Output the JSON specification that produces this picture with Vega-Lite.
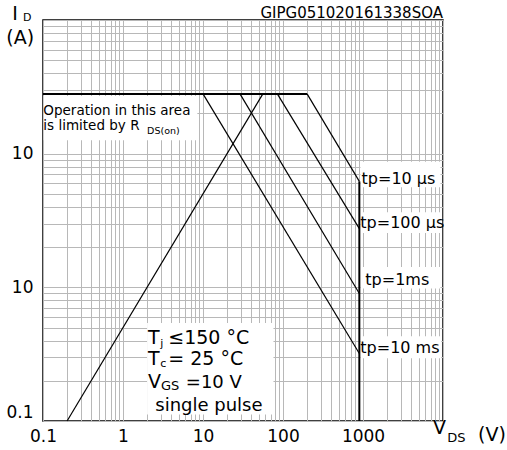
{
  "$schema": "https://vega.github.io/schema/vega-lite/v6.json",
  "width": 400,
  "height": 401,
  "autosize": "none",
  "padding": {"left": 43, "top": 20, "right": 64, "bottom": 29},
  "background": "white",
  "config": {
    "font": "DejaVu Sans",
    "view": {"stroke": "black", "strokeWidth": 1.5},
    "axis": {"gridColor": "#b8b8b8", "gridWidth": 1, "gridOpacity": 1, "ticks": false, "domain": false, "labelFontSize": 17, "labelColor": "black", "labelFont": "DejaVu Sans", "labelOverlap": false, "labelBound": false, "title": null}
  },
  "datasets": {
    "lines": [
      {"series": "limit", "V": 0.1, "I": 28}, {"series": "limit", "V": 200, "I": 28},
      {"series": "rds", "V": 0.2, "I": 0.1}, {"series": "rds", "V": 56, "I": 28},
      {"series": "tp10us", "V": 200, "I": 28}, {"series": "tp10us", "V": 900, "I": 6.2},
      {"series": "tp100us", "V": 85, "I": 28}, {"series": "tp100us", "V": 900, "I": 2.75},
      {"series": "tp1ms", "V": 29, "I": 28}, {"series": "tp1ms", "V": 900, "I": 0.9},
      {"series": "tp10ms", "V": 10, "I": 28}, {"series": "tp10ms", "V": 900, "I": 0.32},
      {"series": "vmax", "V": 900, "I": 6.2}, {"series": "vmax", "V": 900, "I": 0.1}
    ],
    "boxes": [
      {"V": 0.102, "V2": 8.5, "I": 27, "I2": 12.6},
      {"V": 2.0, "V2": 76, "I": 0.54, "I2": 0.112},
      {"V": 930, "V2": 9300, "I": 8.7, "I2": 5.6},
      {"V": 930, "V2": 9500, "I": 3.65, "I2": 2.55},
      {"V": 930, "V2": 9300, "I": 1.42, "I2": 0.98},
      {"V": 930, "V2": 9500, "I": 0.43, "I2": 0.295}
    ],
    "texts": [
      {"g": "big", "text": "I", "V": 0.0413, "I": 100},
      {"g": "sub", "text": "D", "V": 0.0562, "I": 98.6},
      {"g": "big", "text": "(A)", "V": 0.0348, "I": 66},
      {"g": "id", "text": "GIPG051020161338SOA", "V": 10000, "I": 103},
      {"g": "note", "text": "Operation in this area", "V": 0.101, "I": 19.5},
      {"g": "note", "text": "is limited by R", "V": 0.101, "I": 15.0},
      {"g": "notesub", "text": "DS(on)", "V": 2.0, "I": 14.1},
      {"g": "tp", "text": "tp=10 µs", "V": 960, "I": 5.98},
      {"g": "tp", "text": "tp=100 µs", "V": 925, "I": 2.77},
      {"g": "tp", "text": "tp=1ms", "V": 1069, "I": 1.04},
      {"g": "tp", "text": "tp=10 ms", "V": 925, "I": 0.321},
      {"g": "big", "text": "T", "V": 2.05, "I": 0.375},
      {"g": "sub", "text": "j", "V": 2.93, "I": 0.356},
      {"g": "big", "text": "≤150 °C", "V": 3.68, "I": 0.375},
      {"g": "big", "text": "T", "V": 2.05, "I": 0.261},
      {"g": "sub", "text": "c", "V": 2.93, "I": 0.2523},
      {"g": "big", "text": "= 25 °C", "V": 3.68, "I": 0.261},
      {"g": "big", "text": "V", "V": 2.06, "I": 0.1772},
      {"g": "sub2", "text": "GS", "V": 2.98, "I": 0.1698},
      {"g": "mid", "text": "=10 V", "V": 6.1, "I": 0.1772},
      {"g": "mid", "text": "single pulse", "V": 2.53, "I": 0.1186},
      {"g": "big", "text": "V", "V": 7499, "I": 0.0805},
      {"g": "sub2", "text": "DS", "V": 11320, "I": 0.0697},
      {"g": "big", "text": "(V)", "V": 27380, "I": 0.0705}
    ]
  },
  "encoding": {
    "x": {"field": "V", "type": "quantitative", "scale": {"type": "log", "domain": [0.1, 10000], "nice": false},
      "axis": {"values": [0.1,0.2,0.3,0.4,0.5,0.6,0.7,0.8,0.9,1,2,3,4,5,6,7,8,9,10,20,30,40,50,60,70,80,90,100,200,300,400,500,600,700,800,900,1000,2000,3000,4000,5000,6000,7000,8000,9000,10000],
        "labelExpr": "datum.value == 0.1 ? '0.1' : datum.value == 1 ? '1' : datum.value == 10 ? '10' : datum.value == 100 ? '100' : datum.value == 1000 ? '1000' : ''",
        "labelPadding": 7, "labelFlush": false}},
    "y": {"field": "I", "type": "quantitative", "scale": {"type": "log", "domain": [0.1, 100], "nice": false},
      "axis": {"values": [0.1,0.2,0.3,0.4,0.5,0.6,0.7,0.8,0.9,1,2,3,4,5,6,7,8,9,10,20,30,40,50,60,70,80,90,100],
        "labelExpr": "datum.value == 0.1 ? '0.1' : (datum.value == 1 || datum.value == 10) ? '10' : ''",
        "labelPadding": 10, "labelFlush": true}}
  },
  "layer": [
    {"data": {"name": "boxes"}, "mark": {"type": "rect", "fill": "white", "strokeWidth": 0},
      "encoding": {"x2": {"field": "V2"}, "y2": {"field": "I2"}}},
    {"data": {"name": "lines"}, "transform": [{"filter": "datum.series != 'limit' && datum.series != 'vmax'"}],
      "mark": {"type": "line", "color": "black", "strokeWidth": 1.2},
      "encoding": {"detail": {"field": "series"}}},
    {"data": {"name": "lines"}, "transform": [{"filter": "datum.series == 'limit' || datum.series == 'vmax'"}],
      "mark": {"type": "line", "color": "black", "strokeWidth": 2},
      "encoding": {"detail": {"field": "series"}}},
    {"data": {"name": "texts"}, "transform": [{"filter": "datum.g == 'big'"}],
      "mark": {"type": "text", "align": "left", "baseline": "alphabetic", "fontSize": 19, "color": "black"},
      "encoding": {"text": {"field": "text"}}},
    {"data": {"name": "texts"}, "transform": [{"filter": "datum.g == 'mid'"}],
      "mark": {"type": "text", "align": "left", "baseline": "alphabetic", "fontSize": 18, "color": "black"},
      "encoding": {"text": {"field": "text"}}},
    {"data": {"name": "texts"}, "transform": [{"filter": "datum.g == 'sub'"}],
      "mark": {"type": "text", "align": "left", "baseline": "alphabetic", "fontSize": 11, "color": "black"},
      "encoding": {"text": {"field": "text"}}},
    {"data": {"name": "texts"}, "transform": [{"filter": "datum.g == 'sub2'"}],
      "mark": {"type": "text", "align": "left", "baseline": "alphabetic", "fontSize": 13, "color": "black"},
      "encoding": {"text": {"field": "text"}}},
    {"data": {"name": "texts"}, "transform": [{"filter": "datum.g == 'tp'"}],
      "mark": {"type": "text", "align": "left", "baseline": "alphabetic", "fontSize": 16, "color": "black"},
      "encoding": {"text": {"field": "text"}}},
    {"data": {"name": "texts"}, "transform": [{"filter": "datum.g == 'note'"}],
      "mark": {"type": "text", "align": "left", "baseline": "alphabetic", "fontSize": 13.5, "color": "black"},
      "encoding": {"text": {"field": "text"}}},
    {"data": {"name": "texts"}, "transform": [{"filter": "datum.g == 'notesub'"}],
      "mark": {"type": "text", "align": "left", "baseline": "alphabetic", "fontSize": 9.5, "color": "black"},
      "encoding": {"text": {"field": "text"}}},
    {"data": {"name": "texts"}, "transform": [{"filter": "datum.g == 'id'"}],
      "mark": {"type": "text", "align": "right", "baseline": "alphabetic", "fontSize": 15, "color": "black"},
      "encoding": {"text": {"field": "text"}}}
  ]
}
